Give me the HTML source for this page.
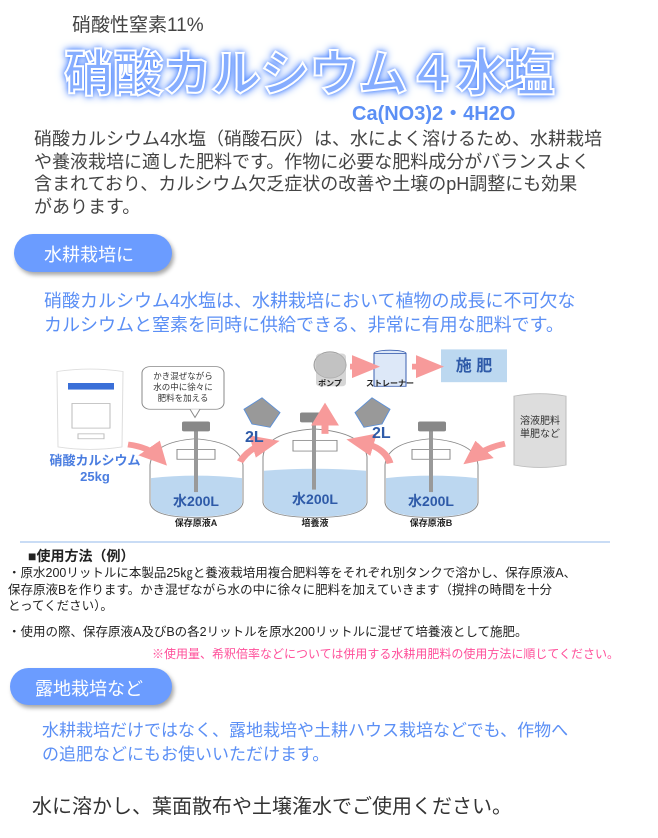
<!DOCTYPE html>
<html><head><meta charset="utf-8">
<style>
body{margin:0;width:658px;height:838px;background:#fff;position:relative;overflow:hidden;font-family:"Liberation Sans","Noto Sans CJK JP",sans-serif;}
.a{position:absolute;white-space:nowrap;}
.pill{position:absolute;background:#6b9cff;border-radius:20px;box-shadow:2px 3px 4px rgba(0,0,0,.35);color:#fff;font-size:18px;}
</style></head><body>
<div class="a" style="left:72px;top:10px;font-size:19px;color:#444;">硝酸性窒素11%</div>
<div class="a" style="left:64px;top:34px;font-size:50px;font-weight:bold;letter-spacing:-1px;color:#86adff;-webkit-text-stroke:2px #fff;text-shadow:0 0 4px #3f7cff,0 0 8px #5a8fff,0 0 10px #5a8fff;">硝酸カルシウム４水塩</div>
<div class="a" style="left:352px;top:97px;font-size:20px;font-weight:bold;color:#5b8ff5;">Ca(NO3)2・4H2O</div>
<div class="a" style="left:34px;top:128px;font-size:18px;line-height:22.5px;color:#444;">硝酸カルシウム4水塩（硝酸石灰）は、水によく溶けるため、水耕栽培<br>や養液栽培に適した肥料です。作物に必要な肥料成分がバランスよく<br>含まれており、カルシウム欠乏症状の改善や土壌のpH調整にも効果<br>があります。</div>
<div class="pill" style="left:14px;top:234px;width:158px;height:38px;"><span style="position:absolute;left:30px;top:7px;">水耕栽培に</span></div>
<div class="a" style="left:44px;top:289px;font-size:18px;line-height:24px;color:#5b8ff5;">硝酸カルシウム4水塩は、水耕栽培において植物の成長に不可欠な<br>カルシウムと窒素を同時に供給できる、非常に有用な肥料です。</div>

<svg class="a" style="left:0;top:340px" width="658" height="200">
<defs><marker id="m" markerWidth="4" markerHeight="4" refX="2" refY="2" orient="auto"><path d="M0,0L4,2L0,4z" fill="#f79a9a"/></marker></defs>
<g transform="translate(0,2) scale(1,0.82)">
<path d="M57,36 Q90,30 123,36 L122,128 Q90,134 58,128Z" fill="#fff" stroke="#ddd"/>
<rect x="68" y="50" width="46" height="8" fill="#3a6fd8"/>
<rect x="72" y="75" width="38" height="30" fill="none" stroke="#bbb"/>
<rect x="78" y="112" width="26" height="6" fill="none" stroke="#bbb"/>
<rect x="142" y="30" width="82" height="52" rx="8" fill="#fff" stroke="#888"/>
<path d="M190,82 L195,92 L200,82" fill="#fff" stroke="#888"/>
<path d="M150,150 Q152,122 195,118 Q240,122 243,150 L243,196 Q240,214 196,214 Q152,214 150,196Z" fill="#fff" stroke="#888"/>
<path d="M151,166 Q196,160 242,166 L242,196 Q240,213 196,213 Q152,213 151,196Z" fill="#bcd7f0"/>
<rect x="177" y="131" width="38" height="12" fill="#fff" stroke="#888"/>
<rect x="194" y="103" width="4" height="80" fill="#999"/>
<rect x="182" y="97" width="28" height="12" rx="2" fill="#888"/>
<path d="M263,140 Q265,110 314,106 Q364,110 367,140 L367,196 Q364,214 315,214 Q266,214 263,196Z" fill="#fff" stroke="#888"/>
<path d="M264,157 Q315,152 366,157 L366,196 Q364,213 315,213 Q266,213 264,196Z" fill="#bcd7f0"/>
<rect x="293" y="120" width="44" height="13" fill="#fff" stroke="#888"/>
<rect x="312" y="95" width="4" height="85" fill="#999"/>
<rect x="300" y="86" width="28" height="12" rx="2" fill="#888"/>
<path d="M385,150 Q387,122 431,118 Q476,122 478,150 L478,196 Q476,214 431,214 Q387,214 385,196Z" fill="#fff" stroke="#888"/>
<path d="M386,166 Q431,160 477,166 L477,196 Q476,213 431,213 Q387,213 386,196Z" fill="#bcd7f0"/>
<rect x="412" y="131" width="38" height="12" fill="#fff" stroke="#888"/>
<rect x="429" y="103" width="4" height="80" fill="#999"/>
<rect x="418" y="97" width="28" height="12" rx="2" fill="#888"/>
<path d="M244,82 L262,68 L280,86 L270,104 L252,100Z" fill="#999" stroke="#5a8fd8"/>
<path d="M390,82 L372,68 L355,86 L364,104 L382,100Z" fill="#999" stroke="#5a8fd8"/>
<circle cx="330" cy="28" r="16" fill="#ccc" stroke="#999"/>
<rect x="316" y="14" width="30" height="40" rx="4" fill="#bbb" opacity=".6"/>
<ellipse cx="390" cy="14" rx="16" ry="4" fill="#dde8f8" stroke="#3a5fb0"/>
<rect x="374" y="14" width="32" height="40" fill="#dde8f8" stroke="#3a5fb0"/>
<rect x="441" y="9" width="66" height="40" fill="#bcd8f0"/>
<path d="M514,66 Q540,60 566,66 L566,150 Q540,156 514,150Z" fill="#ddd" stroke="#bbb"/>
<g stroke="#f79a9a" stroke-width="7" fill="none" marker-end="url(#m)">
<path d="M128,125 Q148,128 158,140"/>
<path d="M240,146 Q250,128 266,124"/>
<path d="M325,112 L325,88"/>
<path d="M390,148 Q385,128 360,122"/>
<path d="M505,124 Q488,128 474,140"/>
<path d="M350,30 L366,30"/>
<path d="M412,30 L430,30"/>
</g>
</g>
<text x="95" y="125" font-size="13" font-weight="bold" fill="#4a7de0" text-anchor="middle">硝酸カルシウム</text>
<text x="95" y="141" font-size="13" font-weight="bold" fill="#4a7de0" text-anchor="middle">25kg</text>
<text font-size="8.5" fill="#333" text-anchor="middle"><tspan x="183" y="39">かき混ぜながら</tspan><tspan x="183" y="50">水の中に徐々に</tspan><tspan x="183" y="61">肥料を加える</tspan></text>
<text x="196" y="166" font-size="14" font-weight="bold" fill="#2e5aa8" text-anchor="middle">水200L</text>
<text x="196" y="186" font-size="9" font-weight="bold" fill="#222" text-anchor="middle">保存原液A</text>
<text x="315" y="164" font-size="14" font-weight="bold" fill="#2e5aa8" text-anchor="middle">水200L</text>
<text x="315" y="186" font-size="9" font-weight="bold" fill="#222" text-anchor="middle">培養液</text>
<text x="431" y="166" font-size="14" font-weight="bold" fill="#2e5aa8" text-anchor="middle">水200L</text>
<text x="431" y="186" font-size="9" font-weight="bold" fill="#222" text-anchor="middle">保存原液B</text>
<text x="245" y="102" font-size="16" font-weight="bold" fill="#2e5aa8">2L</text>
<text x="372" y="98" font-size="16" font-weight="bold" fill="#2e5aa8">2L</text>
<text x="330" y="46" font-size="8" font-weight="bold" fill="#222" text-anchor="middle">ポンプ</text>
<text x="390" y="46" font-size="8" font-weight="bold" fill="#222" text-anchor="middle">ストレーナー</text>
<text x="474" y="31" font-size="16" font-weight="bold" fill="#2e5aa8" text-anchor="middle">施 肥</text>
<text font-size="10" fill="#333" text-anchor="middle"><tspan x="540" y="84">溶液肥料</tspan><tspan x="540" y="97">単肥など</tspan></text>
</svg>

<div class="a" style="left:20px;top:541px;width:590px;height:2px;background:#c9dcf5;"></div>
<div class="a" style="left:28px;top:546px;font-size:14px;font-weight:bold;color:#222;">■使用方法（例）</div>
<div class="a" style="left:8px;top:565px;font-size:12.5px;line-height:16.5px;color:#222;">・原水200リットルに本製品25㎏と養液栽培用複合肥料等をそれぞれ別タンクで溶かし、保存原液A、<br>保存原液Bを作ります。かき混ぜながら水の中に徐々に肥料を加えていきます（撹拌の時間を十分<br>とってください）。</div>
<div class="a" style="left:8px;top:621px;font-size:12.5px;color:#222;">・使用の際、保存原液A及びBの各2リットルを原水200リットルに混ぜて培養液として施肥。</div>
<div class="a" style="left:152px;top:645px;font-size:12px;color:#ff4f9a;">※使用量、希釈倍率などについては併用する水耕用肥料の使用方法に順じてください。</div>
<div class="pill" style="left:10px;top:668px;width:162px;height:37px;"><span style="position:absolute;left:25px;top:7px;">露地栽培など</span></div>
<div class="a" style="left:42px;top:719px;font-size:17px;line-height:24px;color:#5b8ff5;">水耕栽培だけではなく、露地栽培や土耕ハウス栽培などでも、作物へ<br>の追肥などにもお使いいただけます。</div>
<div class="a" style="left:32px;top:790px;font-size:20px;color:#333;">水に溶かし、葉面散布や土壌潅水でご使用ください。</div>
</body></html>
